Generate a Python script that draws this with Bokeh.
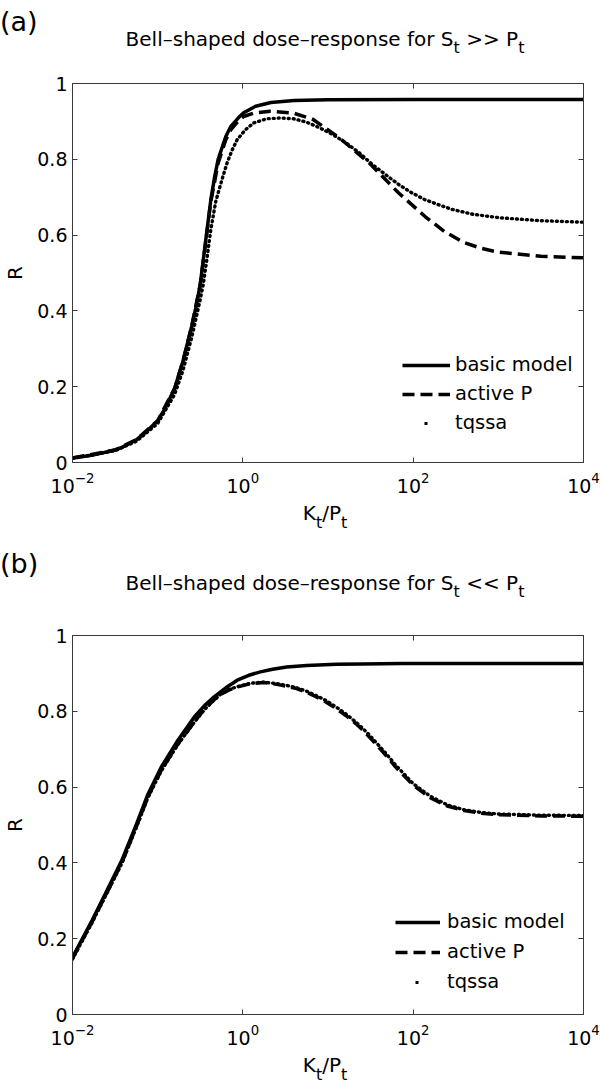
import numpy as np
from bokeh.plotting import figure
from bokeh.models import (FixedTicker, LinearAxis, LogAxis, Range1d, Legend, LegendItem,
                          CustomJSTickFormatter, Div)
from bokeh.layouts import column
from bokeh.embed import file_html
from bokeh.resources import INLINE

# ---------------- data ----------------
x_ticks = [1e-2, 1e0, 1e2, 1e4]
y_ticks = [0, 0.2, 0.4, 0.6, 0.8, 1.0]
legend_labels = ["basic model", "active P", "tqssa"]
titles = ["Bell\u2013shaped dose\u2013response for S<sub>t</sub> &gt;&gt; P<sub>t</sub>",
          "Bell\u2013shaped dose\u2013response for S<sub>t</sub> &lt;&lt; P<sub>t</sub>"]
panel_letters = ["(a)", "(b)"]
x_label = "K<sub>t</sub>/P<sub>t</sub>"
y_label = "R"

# panel (a): S_t >> P_t   (log10 of Kt/Pt, R)
a_basic_log10K = [-2, -1.75, -1.5, -1.42, -1.25, -1.116, -1.0, -0.92, -0.8, -0.7, -0.6, -0.55, -0.5,
                  -0.465, -0.42, -0.376, -0.33, -0.29, -0.2, -0.14, -0.05, 0.01, 0.15, 0.33, 0.6,
                  1.0, 2.0, 3.0, 4.0]
a_basic_R = [0.012, 0.02, 0.033, 0.04, 0.06, 0.085, 0.11, 0.14, 0.196, 0.27, 0.36, 0.41, 0.47,
             0.534, 0.614, 0.693, 0.755, 0.80, 0.86, 0.887, 0.91, 0.923, 0.94, 0.95, 0.955,
             0.957, 0.958, 0.958, 0.958]

a_active_log10K = [-2, -1.5, -1.25, -1.0, -0.8, -0.7, -0.6, -0.5, -0.465, -0.376, -0.29, -0.2,
                   -0.14, -0.05, 0.01, 0.128, 0.32, 0.593, 0.826, 1.136, 1.485, 1.83, 2.14, 2.37,
                   2.6, 2.8, 3.0, 3.5, 4.0]
a_active_R = [0.012, 0.033, 0.06, 0.11, 0.196, 0.27, 0.36, 0.47, 0.53, 0.688, 0.79, 0.852,
              0.878, 0.902, 0.913, 0.922, 0.927, 0.922, 0.905, 0.856, 0.79, 0.711, 0.649, 0.609,
              0.58, 0.565, 0.555, 0.544, 0.54]

a_tqssa_log10K = [-2, -1.5, -1.25, -1.0, -0.8, -0.7, -0.6, -0.5, -0.465, -0.42, -0.376, -0.318,
                  -0.24, -0.18, -0.124, -0.066, 0.031, 0.128, 0.283, 0.438, 0.593, 0.748, 0.903,
                  1.058, 1.213, 1.368, 1.523, 1.678, 1.833, 1.988, 2.143, 2.3, 2.453, 2.7, 3.0,
                  3.5, 4.0]
a_tqssa_R = [0.011, 0.031, 0.056, 0.103, 0.18, 0.245, 0.33, 0.43, 0.47, 0.54, 0.614, 0.689,
             0.75, 0.794, 0.825, 0.852, 0.878, 0.896, 0.907, 0.909, 0.907, 0.898, 0.883,
             0.865, 0.843, 0.817, 0.786, 0.759, 0.733, 0.711, 0.693, 0.68, 0.668, 0.655, 0.646,
             0.638, 0.634]

# panel (b): S_t << P_t
b_basic_log10K = [-2, -1.771, -1.616, -1.422, -1.248, -1.113, -0.957, -0.764, -0.57, -0.45,
                  -0.337, -0.2, -0.066, 0.07, 0.206, 0.35, 0.515, 0.75, 1.1, 1.4, 1.87, 3.0, 4.0]
b_basic_R = [0.151, 0.248, 0.318, 0.406, 0.503, 0.582, 0.653, 0.723, 0.785, 0.815, 0.838,
             0.862, 0.882, 0.895, 0.904, 0.911, 0.917, 0.921, 0.924, 0.925, 0.926, 0.926, 0.926]

b_active_log10K = [-2, -1.771, -1.616, -1.422, -1.248, -1.113, -0.957, -0.764, -0.57, -0.453,
                   -0.35, -0.26, -0.166, -0.066, 0.09, 0.244, 0.40, 0.52, 0.632, 0.75, 0.864,
                   0.98, 1.097, 1.21, 1.33, 1.45, 1.56, 1.68, 1.795, 2.0, 2.2, 2.4, 2.6, 2.8,
                   3.0, 3.5, 4.0]
b_active_R = [0.148, 0.244, 0.313, 0.40, 0.497, 0.575, 0.645, 0.713, 0.772, 0.805, 0.828,
              0.845, 0.856, 0.864, 0.873, 0.876, 0.871, 0.866, 0.86, 0.85, 0.838, 0.824, 0.807,
              0.789, 0.767, 0.741, 0.714, 0.684, 0.653, 0.605, 0.572, 0.55, 0.538, 0.531,
              0.527, 0.524, 0.523]

b_tqssa_log10K = [-2, -1.771, -1.616, -1.422, -1.248, -1.113, -0.957, -0.764, -0.57, -0.453,
                  -0.35, -0.26, -0.166, -0.066, 0.09, 0.244, 0.40, 0.52, 0.632, 0.75, 0.864,
                  0.98, 1.097, 1.21, 1.33, 1.45, 1.56, 1.68, 1.795, 2.0, 2.2, 2.4, 2.6, 2.8,
                  3.0, 3.5, 4.0]
b_tqssa_R = [0.146, 0.242, 0.311, 0.398, 0.495, 0.573, 0.643, 0.712, 0.771, 0.804, 0.827,
             0.845, 0.857, 0.865, 0.874, 0.877, 0.873, 0.868, 0.862, 0.853, 0.841, 0.828,
             0.811, 0.793, 0.771, 0.746, 0.719, 0.689, 0.658, 0.609, 0.576, 0.553, 0.54,
             0.533, 0.529, 0.526, 0.525]

# ---------------- style ----------------
FONT = "DejaVu Sans"
AXC = "#3a3a3a"
W = 600
FL, FR = 67, 583          # frame left / right (page px)


def style_axis(ax, show):
    ax.axis_line_color = AXC
    ax.axis_line_width = 1
    ax.major_tick_line_color = AXC
    ax.major_tick_line_width = 1
    ax.major_tick_in = 5
    ax.major_tick_out = 0
    ax.minor_tick_line_color = None
    ax.major_label_text_font = FONT
    ax.major_label_text_color = "black"
    if show:
        ax.major_label_text_font_size = "19px"
    else:
        ax.major_label_text_font_size = "2px"
        ax.major_label_text_alpha = 0
        ax.major_label_standoff = 0


def sub_html(s, shift):
    return (s.replace("<sub>", f'<span style="font-size:16px;position:relative;top:{shift}px;">')
             .replace("</sub>", "</span>"))


def header_div(idx, height, letter_top, title_top):
    html = (
        f'<div style="position:relative;width:{W}px;height:{height}px;'
        f'font-family:\'{FONT}\';color:#000;white-space:nowrap;">'
        f'<span style="position:absolute;left:0px;top:{letter_top}px;font-size:27px;'
        f'line-height:27px;">{panel_letters[idx]}</span>'
        f'<div style="position:absolute;left:{FL}px;width:{FR - FL}px;top:{title_top}px;'
        f'text-align:center;font-size:20px;line-height:20px;">'
        + sub_html(titles[idx], 7) + '</div></div>')
    return Div(text=html, width=W, height=height, margin=(0, 0, 0, 0))


def xlabel_div(height, top):
    html = (
        f'<div style="position:relative;width:{W}px;height:{height}px;'
        f'font-family:\'{FONT}\';color:#000;white-space:nowrap;">'
        f'<div style="position:absolute;left:{FL}px;width:{FR - FL}px;top:{top}px;'
        f'text-align:center;font-size:20px;line-height:20px;">'
        + sub_html(x_label, 8) + '</div></div>')
    return Div(text=html, width=W, height=height, margin=(0, 0, 0, 0))


def make_panel(series, leg_loc, leg_gw, leg_standoff, leg_spacing):
    p = figure(width=W, height=434, x_axis_type="log", x_range=Range1d(1e-2, 1e4),
               y_range=Range1d(0, 1), output_backend="svg", toolbar_location=None,
               min_border_left=FL, min_border_right=W - FR, min_border_top=15,
               min_border_bottom=40, margin=(0, 0, 0, 0))
    p.outline_line_color = AXC
    p.xgrid.visible = False
    p.ygrid.visible = False

    p.xaxis.ticker = FixedTicker(ticks=x_ticks, minor_ticks=[])
    p.yaxis.ticker = FixedTicker(ticks=y_ticks, minor_ticks=[])
    p.yaxis.formatter = CustomJSTickFormatter(code="return String(Math.round(tick*10)/10);")
    for ax in p.xaxis + p.yaxis:
        style_axis(ax, True)
    p.xaxis.major_label_standoff = 9
    p.yaxis.major_label_standoff = 5
    p.yaxis.axis_label = y_label
    p.yaxis.axis_label_text_font = FONT
    p.yaxis.axis_label_text_font_size = "20px"
    p.yaxis.axis_label_text_font_style = "normal"
    p.yaxis.axis_label_text_color = "black"
    p.yaxis.axis_label_standoff = 7

    top_ax = LogAxis(ticker=FixedTicker(ticks=x_ticks, minor_ticks=[]))
    style_axis(top_ax, False)
    p.add_layout(top_ax, "above")
    right_ax = LinearAxis(ticker=FixedTicker(ticks=y_ticks, minor_ticks=[]))
    style_axis(right_ax, False)
    p.add_layout(right_ax, "right")

    (bk, br), (ak, ar), (tk, tr) = series
    r_basic = p.line(10 ** np.array(bk), br, line_width=3.5, color="black")
    p.line(10 ** np.array(tk), tr, line_width=3.4, color="black", line_dash="1 4",
           line_cap="round")
    r_active = p.line(10 ** np.array(ak), ar, line_width=3.5, color="black",
                      line_dash="12 6")
    # legend symbol for tqssa: a single dot in the middle of the glyph area
    half = int(leg_gw // 2) - 2
    r_dot = p.line(x=[x_ticks[0]], y=[y_ticks[0]], line_width=3, color="black",
                   line_dash=f"0 {half} 3 200")

    legend = Legend(items=[LegendItem(label=legend_labels[0], renderers=[r_basic]),
                           LegendItem(label=legend_labels[1], renderers=[r_active]),
                           LegendItem(label=legend_labels[2], renderers=[r_dot])],
                    location=leg_loc, glyph_width=leg_gw, glyph_height=20, label_height=20,
                    label_standoff=leg_standoff, spacing=leg_spacing, padding=0, margin=0,
                    border_line_alpha=0, background_fill_alpha=0,
                    label_text_font=FONT, label_text_font_size="19.5px",
                    label_text_color="black")
    p.add_layout(legend)
    return p


pa = make_panel([(a_basic_log10K, a_basic_R), (a_active_log10K, a_active_R),
                 (a_tqssa_log10K, a_tqssa_R)],
                leg_loc=(330, 28), leg_gw=48, leg_standoff=5, leg_spacing=6)
pb = make_panel([(b_basic_log10K, b_basic_R), (b_active_log10K, b_active_R),
                 (b_tqssa_log10K, b_tqssa_R)],
                leg_loc=(323, 21), leg_gw=45, leg_standoff=7, leg_spacing=7)

layout = column(header_div(0, 68, 8, 29), pa, xlabel_div(38, 1),
                header_div(1, 80, 10, 33), pb, xlabel_div(32, 1),
                spacing=0, margin=(0, 0, 0, 0))
open("out.html", "w").write(file_html(layout, INLINE))
